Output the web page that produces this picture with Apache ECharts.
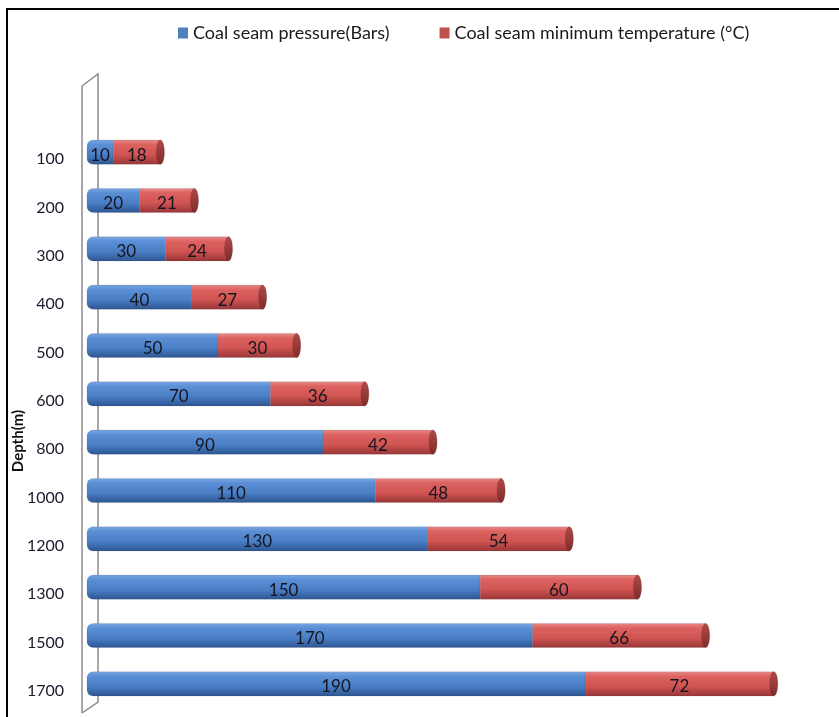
<!DOCTYPE html>
<html>
<head>
<meta charset="utf-8">
<script src="https://cdn.jsdelivr.net/npm/echarts@6/dist/echarts.min.js"></script>
<style>
  html, body { margin: 0; padding: 0; background: #fff; }
  #chart { width: 839px; height: 717px; }
</style>
</head>
<body>
<div id="chart"></div>
<script>
// Depth categories (m), top to bottom
const depths = ['100', '200', '300', '400', '500', '600', '800', '1000', '1200', '1300', '1500', '1700'];
// Coal seam pressure (Bars)
const pressure = [10, 20, 30, 40, 50, 70, 90, 110, 130, 150, 170, 190];
// Coal seam minimum temperature (°C)
const temperature = [18, 21, 24, 27, 30, 36, 42, 48, 54, 60, 66, 72];

const seriesNames = ['Coal seam pressure(Bars)', 'Coal seam minimum temperature (\u00B0C)'];
const FONT = 'Lato, "Noto Sans", sans-serif';

const blueFill = new echarts.graphic.LinearGradient(0, 0, 0, 1, [
  { offset: 0, color: '#7aa6e0' },
  { offset: 0.2, color: '#5a8fd6' },
  { offset: 0.6, color: '#4a7fc6' },
  { offset: 1, color: '#2c5590' }
]);
const redFill = new echarts.graphic.LinearGradient(0, 0, 0, 1, [
  { offset: 0, color: '#e88a88' },
  { offset: 0.2, color: '#dc6260' },
  { offset: 0.6, color: '#cf5452' },
  { offset: 1, color: '#983636' }
]);
const capFill = new echarts.graphic.LinearGradient(0, 0, 0, 1, [
  { offset: 0, color: '#b04a48' },
  { offset: 1, color: '#7d2c2b' }
]);

// Rows: [category index, start value, end value, label value]
const pressureRows = depths.map((d, i) => [i, 0, pressure[i], pressure[i]]);
const tempRows = depths.map((d, i) => [i, pressure[i], pressure[i] + temperature[i], temperature[i]]);

function cylinder(isEnd, fill) {
  return function (params, api) {
    const idx = api.value(0);
    const p0 = api.coord([api.value(1), idx]);
    const p1 = api.coord([api.value(2), idx]);
    const h = api.size([0, 1])[1] * 0.5;
    const y = p0[1] - h / 2;
    const children = [{
      type: 'rect',
      shape: { x: p0[0], y: y, width: p1[0] - p0[0], height: h, r: isEnd ? 0 : [6, 0, 0, 6] },
      style: { fill: fill, stroke: 'rgba(60,60,80,0.25)', lineWidth: 0.5 }
    }];
    if (isEnd) {
      children.push({
        type: 'ellipse',
        shape: { cx: p1[0], cy: p0[1], rx: 4, ry: h / 2 },
        style: { fill: capFill, stroke: 'rgba(90,30,30,0.4)', lineWidth: 0.5 }
      });
    }
    children.push({
      type: 'text',
      x: (p0[0] + p1[0]) / 2,
      y: p0[1] + 3,
      style: {
        text: String(api.value(3)),
        align: 'center',
        verticalAlign: 'middle',
        font: '17px ' + FONT,
        fill: '#15151f'
      }
    });
    return { type: 'group', children: children };
  };
}

const chart = echarts.init(document.getElementById('chart'));
chart.setOption({
  backgroundColor: '#fff',
  animation: false,
  legend: {
    top: 19,
    left: 173,
    icon: 'rect',
    itemWidth: 10,
    itemHeight: 11,
    itemGap: 50,
    textStyle: { fontFamily: FONT, fontSize: 18, color: '#1a1a1a' },
    data: seriesNames
  },
  grid: { left: 87, right: 18, top: 128, bottom: 9 },
  xAxis: {
    type: 'value', min: 0, max: 280, show: false
  },
  yAxis: {
    type: 'category',
    data: depths,
    inverse: true,
    axisLine: { show: false },
    axisTick: { show: false },
    splitLine: { show: false },
    axisLabel: {
      margin: 23,
      fontFamily: FONT,
      fontSize: 16,
      color: '#1a1a2a',
      verticalAlign: 'top',
      lineHeight: 14
    }
  },
  graphic: [
    // outer frame
    { type: 'rect', shape: { x: 7, y: 9, width: 900, height: 800 },
      style: { fill: 'none', stroke: '#000', lineWidth: 2 }, z: -10 },
    // side wall of the 3D plot area
    { type: 'polyline', shape: { points: [[82, 713], [82, 86], [98, 74], [98, 702], [82, 713]] },
      style: { fill: 'none', stroke: '#8c8c8c', lineWidth: 1.5 }, z: -5 },
    { type: 'text', x: 18, y: 441, rotation: Math.PI / 2,
      style: { text: 'Depth(m)', font: 'bold 15px ' + FONT, fill: '#111', align: 'center', verticalAlign: 'middle' } }
  ],
  series: [
    {
      name: seriesNames[0],
      type: 'custom',
      itemStyle: { color: '#4f81bd' },
      renderItem: cylinder(false, blueFill),
      encode: { x: [1, 2], y: 0 },
      data: pressureRows
    },
    {
      name: seriesNames[1],
      type: 'custom',
      itemStyle: { color: '#c0504d' },
      renderItem: cylinder(true, redFill),
      encode: { x: [1, 2], y: 0 },
      data: tempRows
    }
  ]
});
</script>
</body>
</html>
